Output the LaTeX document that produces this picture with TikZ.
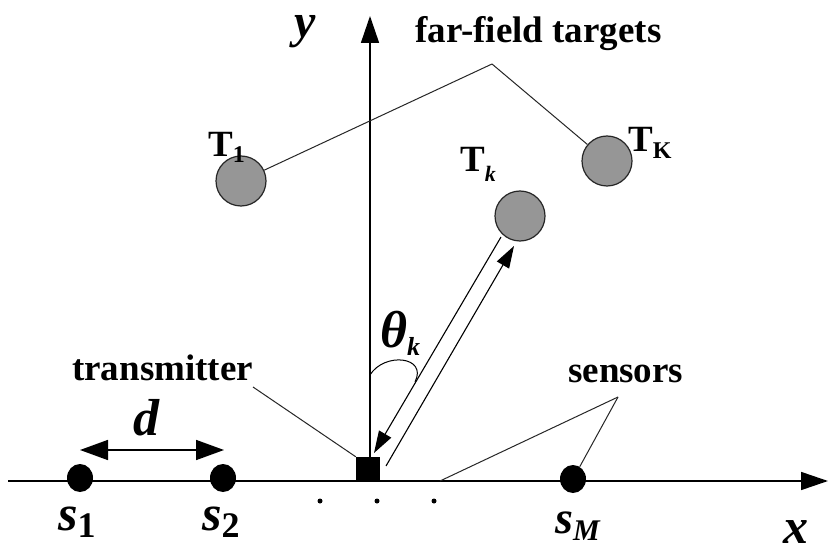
\documentclass[tikz,border=0pt]{standalone}
\usepackage{fontspec}
\setmainfont{Liberation Serif}
\usetikzlibrary{arrows.meta,shapes.geometric}
\newcommand{\lbl}{\bfseries\fontsize{37bp}{40bp}\selectfont}
\newcommand{\lowsub}[3]{\raisebox{-#2}{\fontsize{#1}{#1}\selectfont #3}}
\begin{document}
\begin{tikzpicture}[x=1bp,y=-1bp,
  txt/.style={inner sep=0pt, anchor=base west},
  target/.style={circle, draw=black!85, line width=1.2bp, fill={rgb,255:red,150;green,150;blue,150}, minimum size=50bp, inner sep=0pt},
  sensor/.style={ellipse, fill=black, minimum width=26bp, minimum height=28bp, inner sep=0pt},
  leader/.style={line width=1bp, black!85},
  axis/.style={line width=1.6bp, -{Triangle[length=27bp,width=18bp]}},
  dblarrow/.style={line width=1.6bp, {Triangle[length=28bp,width=20bp]}-{Triangle[length=28bp,width=20bp]}},
  beam/.style={line width=1.1bp, -{Triangle[length=22bp,width=14bp]}},
  dotm/.style={circle, fill=black, minimum size=5bp, inner sep=0pt}
]
\useasboundingbox (0,0) rectangle (828,553);
\fill[white] (0,0) rectangle (828,553);

% axes
\coordinate (xs) at (8,481);
\coordinate (xe) at (828,481);
\coordinate (ys) at (370,481);
\coordinate (ye) at (370,16);
\draw[axis] (xs) -- (xe);
\draw[axis] (ys) -- (ye);
\node[txt] (ylab) at (294,38) {\bfseries\itshape\fontsize{48bp}{48bp}\selectfont y};
\node[txt] (xlab) at (783,543) {\bfseries\itshape\fontsize{50bp}{50bp}\selectfont x};

% targets
\node[target] (T1) at (241,181) {};
\node[target] (Tk) at (520,216) {};
\node[target] (TK) at (607,161) {};
\node[txt] (T1l) at (208,157) {\lbl T\lowsub{24bp}{6bp}{1}};
\node[txt] (Tkl) at (460,172) {\lbl T\lowsub{22bp}{10bp}{\itshape k}};
\node[txt] (TKl) at (628,152) {\lbl T\lowsub{24bp}{7bp}{K}};

\node[txt] (fft) at (415,43) {\lbl far-field targets};
\coordinate (fj) at (492,64);
\draw[leader] (fj) -- (T1);
\draw[leader] (fj) -- (TK);

% transmitter
\node[rectangle, fill=black, minimum size=24bp, inner sep=0pt] (tx) at (368,469) {};
\node[txt] (txl) at (72,380) {\lbl transmitter};
\coordinate (txj) at (253,387);
\draw[leader] (txj) -- (tx.north west);

% sensors
\node[sensor] (s1) at (80,478) {};
\node[sensor] (s2) at (223,478) {};
\node[sensor] (sM) at (573,479) {};
\node[txt] (s1l) at (58,530) {\bfseries\itshape\fontsize{50bp}{50bp}\selectfont s\lowsub{36bp}{7bp}{\upshape 1}};
\node[txt] (s2l) at (202,530) {\bfseries\itshape\fontsize{50bp}{50bp}\selectfont s\lowsub{36bp}{7bp}{\upshape 2}};
\node[txt] (sMl) at (555,533) {\bfseries\itshape\fontsize{46bp}{46bp}\selectfont s\lowsub{30bp}{7bp}{M}};
\node[txt] (sl) at (568,382) {\lbl sensors};
\coordinate (sj) at (618,397);
\coordinate (sa) at (440,481);
\draw[leader] (sj) -- (sa);
\draw[leader] (sj) -- (sM);

% spacing d
\coordinate (d1) at (80,450);
\coordinate (d2) at (224,450);
\draw[dblarrow] (d1) -- (d2);
\node[txt] (dl) at (133,435) {\bfseries\itshape\fontsize{52bp}{52bp}\selectfont d};

% dots
\node[dotm] (dt1) at (320,501) {};
\node[dotm] (dt2) at (377,501) {};
\node[dotm] (dt3) at (434,501) {};

% beams
\coordinate (a1) at (501,237);
\coordinate (a2) at (374,453);
\coordinate (b1) at (386,466);
\coordinate (b2) at (514,246);
\draw[beam] (a1) -- (a2);
\draw[beam] (b1) -- (b2);

% angle
\coordinate (th1) at (370,375);
\coordinate (th2) at (415,382);
\draw[line width=1bp] (th1) .. controls (384,352) and (428,356) .. (th2);
\node[txt] (thl) at (380,347) {\bfseries\itshape\fontsize{52bp}{52bp}\selectfont θ\lowsub{26bp}{8bp}{k}};
\end{tikzpicture}
\end{document}
